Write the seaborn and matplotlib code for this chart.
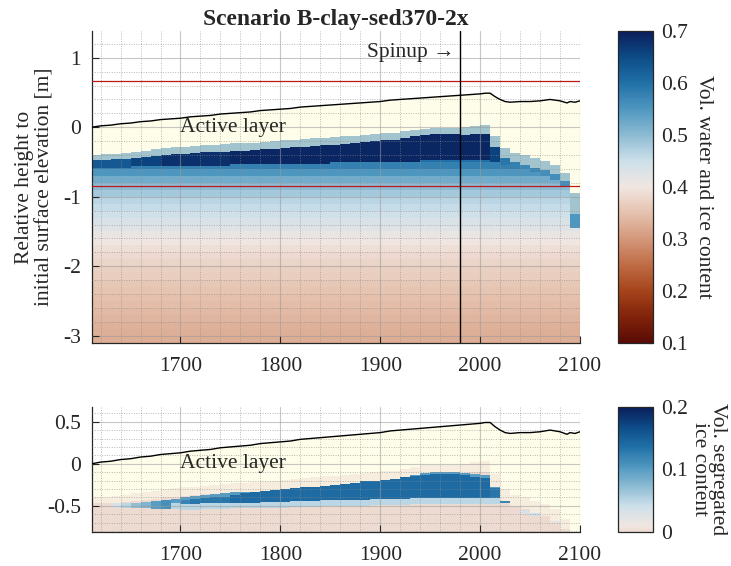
import numpy as np
import matplotlib
matplotlib.use("Agg")
import matplotlib.pyplot as plt
import seaborn as sns
from matplotlib.colors import LinearSegmentedColormap
from matplotlib.ticker import MultipleLocator, FuncFormatter

nan = np.nan

# ---------------- data ----------------
title = "Scenario B-clay-sed370-2x"
col_edges = list(range(1610, 2101, 10))          # 49 ten-year columns

# top panel: frozen ice-rich layer
ice_top = [-0.47, -0.47, -0.46, -0.45, -0.44, -0.43, -0.42, -0.40, -0.39, -0.38,
           -0.37, -0.36, -0.36, -0.35, -0.34, -0.34, -0.33, -0.32, -0.31, -0.30,
           -0.29, -0.28, -0.27, -0.26, -0.25, -0.24, -0.23, -0.21, -0.20, -0.19,
           -0.18, -0.16, -0.13, -0.11, -0.10, -0.10, -0.10, -0.11, -0.10, -0.10,
           -0.28, -0.44, -0.50, -0.54, -0.58, -0.62, -0.68, -0.78, -1.25]
thaw_tip = [-0.40, -0.39, -0.38, -0.37, -0.35, -0.34, -0.32, -0.30, -0.29, -0.28,
            -0.27, -0.26, -0.25, -0.24, -0.23, -0.23, -0.22, -0.21, -0.20, -0.19,
            -0.18, -0.17, -0.16, -0.15, -0.14, -0.13, -0.12, -0.11, -0.10, -0.09,
            -0.08, -0.06, -0.04, -0.02, -0.01, -0.01, -0.01, 0.00, 0.02, 0.03,
            -0.12, -0.30, -0.37, -0.40, -0.44, -0.48, -0.54, -0.66, -0.95]
core_base = [-0.58, -0.58, -0.58, -0.58, -0.56, -0.56, -0.56, -0.56, -0.56, -0.56,
             -0.56, -0.56, -0.56, -0.56, -0.53, -0.53, -0.53, -0.53, -0.53, -0.53,
             -0.53, -0.53, -0.53, -0.53, -0.50, -0.50, -0.50, -0.50, -0.50, -0.50,
             -0.50, -0.50, -0.50, -0.47, -0.47, -0.47, -0.47, -0.47, -0.47, -0.47,
             -0.50, -0.55, -0.57, -0.60, -0.64, -0.70, -0.76, -0.84, -1.45]
core_val = [0.63, 0.63, 0.63, 0.63, 0.66, 0.66, 0.66, 0.68, 0.68, 0.68,
            0.68, 0.68, 0.68, 0.68, 0.69, 0.69, 0.69, 0.69, 0.69, 0.69,
            0.69, 0.69, 0.69, 0.69, 0.69, 0.69, 0.69, 0.69, 0.69, 0.69,
            0.69, 0.69, 0.69, 0.69, 0.69, 0.69, 0.69, 0.69, 0.69, 0.69,
            0.66, 0.59, 0.58, 0.57, 0.57, 0.56, 0.56, 0.56, 0.55]
fringe_val = 0.58

# background water+ice content with depth (0.1 m bands, top of band)
bg_band_top = [-0.4, -0.5, -0.6, -0.7, -0.8, -0.9, -1.0, -1.1, -1.2, -1.3,
               -1.4, -1.5, -1.6, -1.7, -1.8, -1.9, -2.0, -2.1, -2.2, -2.3,
               -2.4, -2.5, -2.6, -2.7, -2.8, -2.9, -3.0, -3.1]
bg_values = [0.60, 0.58, 0.55, 0.52, 0.50, 0.48, 0.465, 0.455, 0.445, 0.435,
             0.425, 0.41, 0.40, 0.39, 0.383, 0.376, 0.37, 0.365, 0.36, 0.355,
             0.35, 0.345, 0.34, 0.336, 0.332, 0.328, 0.325, 0.322]

# bottom panel: segregated ice
seg_top = [nan, nan, -0.47, -0.47, -0.46, -0.45, -0.44, -0.43, -0.42, -0.39,
           -0.38, -0.37, -0.36, -0.35, -0.33, -0.31, -0.29, -0.28, -0.27, -0.26,
           -0.25, -0.24, -0.23, -0.22, -0.21, -0.20, -0.18, -0.17, -0.16, -0.15,
           -0.14, -0.12, -0.10, -0.09, -0.08, -0.08, -0.08, -0.09, -0.12, -0.13,
           -0.25, -0.40, nan, -0.55, -0.58, nan, -0.66, nan, nan]
seg_base = [nan, nan, -0.52, -0.53, -0.53, -0.53, -0.54, -0.54, -0.54, -0.55,
            -0.55, -0.54, -0.54, -0.54, -0.53, -0.53, -0.53, -0.52, -0.52, -0.52,
            -0.51, -0.51, -0.51, -0.50, -0.50, -0.50, -0.50, -0.50, -0.49, -0.49,
            -0.49, -0.49, -0.48, -0.48, -0.48, -0.48, -0.48, -0.48, -0.48, -0.48,
            -0.48, -0.47, nan, -0.60, -0.62, nan, -0.70, nan, nan]
seg_val = [nan, nan, 0.03, 0.05, 0.07, 0.08, 0.10, 0.11, 0.12, 0.12,
           0.13, 0.13, 0.13, 0.13, 0.14, 0.14, 0.14, 0.14, 0.14, 0.14,
           0.14, 0.14, 0.14, 0.14, 0.14, 0.14, 0.14, 0.14, 0.14, 0.14,
           0.14, 0.14, 0.14, 0.14, 0.14, 0.14, 0.14, 0.14, 0.14, 0.14,
           0.13, 0.12, nan, 0.03, 0.04, nan, 0.02, nan, nan]
seg_rim_val = 0.05      # lighter lower rim of the segregated-ice lens
seg_cap_val = 0.10      # lighter upper cap of the lens

# surface elevation
surf_years = [1611, 1620, 1630, 1640, 1650, 1660, 1670, 1680, 1690, 1700,
              1710, 1720, 1730, 1740, 1750, 1760, 1770, 1780, 1790, 1800,
              1810, 1820, 1830, 1840, 1850, 1860, 1870, 1880, 1890, 1900,
              1910, 1920, 1930, 1940, 1950, 1960, 1970, 1980, 1990, 2000,
              2005, 2010, 2015, 2020, 2025, 2030, 2040, 2050, 2060, 2070,
              2080, 2087, 2090, 2095, 2100]
surf_elev = [0.00, 0.02, 0.03, 0.05, 0.06, 0.08, 0.09, 0.11, 0.12, 0.13,
             0.15, 0.16, 0.17, 0.19, 0.20, 0.21, 0.22, 0.24, 0.25, 0.26,
             0.27, 0.29, 0.30, 0.31, 0.32, 0.33, 0.34, 0.35, 0.36, 0.37,
             0.39, 0.40, 0.41, 0.42, 0.43, 0.44, 0.45, 0.46, 0.47, 0.48,
             0.49, 0.49, 0.44, 0.40, 0.37, 0.36, 0.37, 0.37, 0.38, 0.40,
             0.38, 0.35, 0.37, 0.36, 0.38]

spinup_year = 1980
zoom_limits = [0.664, -0.84]
cb1_ticks = [0.1, 0.2, 0.3, 0.4, 0.5, 0.6, 0.7]
cb2_ticks = [0, 0.1, 0.2]
x_ticks = [1700, 1800, 1900, 2000, 2100]

# ---------------- style ----------------
sns.set_style("ticks")
plt.rcParams["font.family"] = ["Liberation Serif", "DejaVu Serif"]
plt.rcParams["axes.unicode_minus"] = False
FS = 15.5

cm_vals = [0.10, 0.15, 0.20, 0.25, 0.30, 0.35, 0.40, 0.45, 0.50, 0.55, 0.60, 0.65, 0.70]
cm_cols = ["#5a0b06", "#80230a", "#a5441b", "#bf6c45", "#d4977a", "#e5c1ae", "#f1e6e1",
           "#cde0ea", "#8dbbd3", "#4f97c0", "#2170a7", "#0d4c88", "#0a1f5b"]
cmap1 = LinearSegmentedColormap.from_list(
    "wic", [((v - 0.1) / 0.6, c) for v, c in zip(cm_vals, cm_cols)])
lo = (0.385 - 0.1) / 0.6
cmap2 = LinearSegmentedColormap.from_list(
    "seg", [cmap1(lo + (1 - lo) * t) for t in np.linspace(0, 1, 64)])

ACTIVE = "#fefde9"

# ---------------- fields ----------------
xe = np.array(col_edges, dtype=float)
ye = np.arange(-3.25, 0.7601, 0.01)
yc = 0.5 * (ye[:-1] + ye[1:])
bt = np.array(bg_band_top)
idx = np.clip(np.searchsorted(-bt, -yc, side="left") - 1, 0, len(bt) - 1)
bg_col = np.array(bg_values)[idx]
bg_col[yc > bt[0]] = bg_values[0]

ncol = len(ice_top)
Z1 = np.full((len(yc), ncol), nan)
F1 = np.full((len(yc), ncol), nan)
Z2 = np.full((len(yc), ncol), nan)
F2 = np.full((len(yc), ncol), nan)
for i in range(ncol):
    z = bg_col.copy()
    z[(yc <= ice_top[i]) & (yc > core_base[i])] = core_val[i]
    z[yc > ice_top[i]] = nan
    Z1[:, i] = z
    f = np.full(len(yc), nan)
    f[(yc > ice_top[i]) & (yc <= thaw_tip[i])] = fringe_val
    F1[:, i] = f
    z2 = np.zeros(len(yc))
    if not np.isnan(seg_val[i]):
        inside = (yc <= seg_top[i]) & (yc > seg_base[i])
        z2[inside] = seg_val[i]
        thick = seg_top[i] - seg_base[i]
        if thick > 0.12:
            z2[inside & (yc <= seg_base[i] + 0.07)] = min(seg_rim_val, seg_val[i])
            z2[inside & (yc > seg_top[i] - 0.04)] = min(seg_cap_val, seg_val[i])
    z2[yc > ice_top[i]] = nan
    Z2[:, i] = z2
    f2 = np.full(len(yc), nan)
    f2[(yc > ice_top[i]) & (yc <= thaw_tip[i])] = 0.0
    F2[:, i] = f2

# ---------------- figure ----------------
fig = plt.figure(figsize=(7.31, 5.66), dpi=100)
ax1 = fig.add_axes([92 / 731, 1 - 343 / 566, 488 / 731, 312 / 566])
ax2 = fig.add_axes([92 / 731, 1 - 532 / 566, 488 / 731, 125 / 566])
cax1 = fig.add_axes([618 / 731, 1 - 343 / 566, 35 / 731, 312 / 566])
cax2 = fig.add_axes([618 / 731, 1 - 532 / 566, 35 / 731, 125 / 566])

fmt = FuncFormatter(lambda v, p: "%g" % round(v, 3))


def style_axes(ax, ymaj, ymin):
    ax.set_xlim(1611.4, 2100)
    ax.xaxis.set_major_locator(MultipleLocator(100))
    ax.xaxis.set_minor_locator(MultipleLocator(20))
    ax.yaxis.set_major_locator(MultipleLocator(ymaj))
    ax.yaxis.set_minor_locator(MultipleLocator(ymin))
    ax.yaxis.set_major_formatter(fmt)
    ax.set_axisbelow(False)
    ax.grid(True, which="major", color="#9a9a9a", lw=0.8, alpha=0.55, ls="-")
    ax.grid(True, which="minor", color="#8a8a8a", lw=0.7, alpha=0.6, ls=(0, (1, 1.5)))
    for s in ["top", "right"]:
        ax.spines[s].set_visible(False)
    for s in ["left", "bottom"]:
        ax.spines[s].set_color("#262626")
        ax.spines[s].set_linewidth(0.9)
    ax.tick_params(which="major", direction="in", length=5, width=0.8,
                   labelsize=FS, colors="#262626", pad=8)
    ax.tick_params(which="minor", length=0)
    ax.tick_params(axis="x", pad=10)


for ax, Z, F, cmap, vmin, vmax in [(ax1, Z1, F1, cmap1, 0.1, 0.7),
                                   (ax2, Z2, F2, cmap2, 0.0, 0.2)]:
    ax.fill_between(surf_years, surf_elev, -3.3, color=ACTIVE, lw=0, zorder=0.5)
    m = ax.pcolormesh(xe, ye, np.ma.masked_invalid(Z), cmap=cmap, vmin=vmin, vmax=vmax,
                      shading="flat", zorder=1, rasterized=True)
    ax.pcolormesh(xe, ye, np.ma.masked_invalid(F), cmap=cmap, vmin=vmin, vmax=vmax,
                  shading="flat", zorder=1.1, alpha=0.45, rasterized=True)
    sns.lineplot(x=surf_years, y=surf_elev, ax=ax, color="black", lw=1.0, zorder=3)
    ax.text(1700, 0.0, "Active layer", fontsize=FS, ha="left", va="center", zorder=4)
    if ax is ax1:
        mesh1 = m
    else:
        mesh2 = m

style_axes(ax1, 1, 0.2)
style_axes(ax2, 0.5, 0.1)
ax1.set_ylim(-3.105, 1.385)
ax2.set_ylim(-0.81, 0.674)
ax1.set_xticks(x_ticks)
ax2.set_xticks(x_ticks)
ax1.set_xlim(1611.4, 2100)
ax2.set_xlim(1611.4, 2100)

for yv in zoom_limits:
    ax1.axhline(yv, color="#c01818", lw=0.9, zorder=3)
ax1.axvline(spinup_year, color="black", lw=1.0, zorder=3)
ax1.text(spinup_year - 6, 1.08, "Spinup \u2192", fontsize=FS, ha="right", va="center",
         family=["Liberation Serif", "DejaVu Serif"], zorder=4)

ax1.set_title(title, fontsize=17, fontweight="bold", pad=4)
ax1.set_ylabel("Relative height to\ninitial surface elevation [m]", fontsize=FS,
               linespacing=1.1, labelpad=6)
ax2.set_ylabel("")

cb1 = fig.colorbar(mesh1, cax=cax1, ticks=cb1_ticks)
cb2 = fig.colorbar(mesh2, cax=cax2, ticks=cb2_ticks)
cb1.ax.set_yticklabels(["0.1", "0.2", "0.3", "0.4", "0.5", "0.6", "0.7"])
cb2.ax.set_yticklabels(["0", "0.1", "0.2"])
for cb in (cb1, cb2):
    cb.outline.set_edgecolor("#262626")
    cb.outline.set_linewidth(0.9)
    cb.ax.tick_params(direction="in", length=4, width=0.8, labelsize=FS,
                      colors="#262626", pad=6)
cb1.set_label("Vol. water and ice content", rotation=270, fontsize=FS, labelpad=18)
cb2.set_label("Vol. segregated\nice content", rotation=270, fontsize=FS, labelpad=28,
              linespacing=0.9)

fig.savefig("out.png", dpi=100)
